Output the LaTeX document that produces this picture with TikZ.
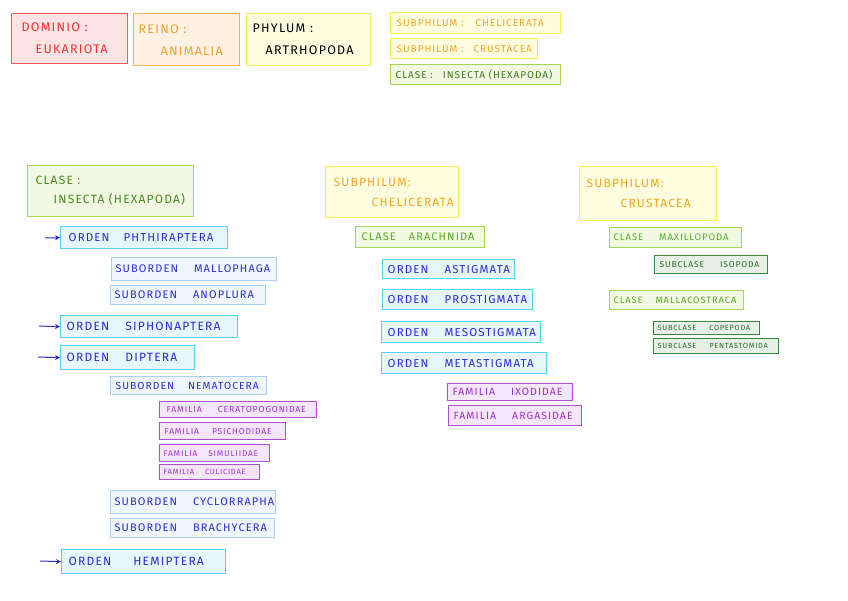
\documentclass[tikz,border=0pt]{standalone}
\usepackage{fontspec}
\setmainfont{Fira Sans}[LetterSpace=10]
\usetikzlibrary{arrows.meta}
\definecolor{redB}{HTML}{F05A5A}\definecolor{redF}{HTML}{FDE4E4}\definecolor{redT}{HTML}{F03535}
\definecolor{orgB}{HTML}{FBB35A}\definecolor{orgF}{HTML}{FFF2E3}\definecolor{orgT}{HTML}{F5A030}
\definecolor{yelB}{HTML}{F5EE50}\definecolor{yelF}{HTML}{FFFDE0}\definecolor{yelT}{HTML}{F5A623}
\definecolor{grnB}{HTML}{A5D65A}\definecolor{grnF}{HTML}{F1F9E3}\definecolor{grnT}{HTML}{5AAB2A}
\definecolor{cyaB}{HTML}{5AD0F0}\definecolor{cyaF}{HTML}{E6F8FD}\definecolor{bluT}{HTML}{2B2BD8}
\definecolor{lbuB}{HTML}{A8D0F5}\definecolor{lbuF}{HTML}{F0F6FD}
\definecolor{purB}{HTML}{B050D0}\definecolor{purF}{HTML}{F6E6FB}\definecolor{purT}{HTML}{A030D0}
\definecolor{dgrB}{HTML}{3A8A3A}\definecolor{dgrF}{HTML}{E6F0E6}\definecolor{dgrT}{HTML}{2A6A2A}
\newcommand{\wg}[1][16]{\hspace{#1pt}}
% \bx{name}{style}{x1}{y1}{x2}{y2}{text}{pad}
\newcommand{\bx}[8]{%
 \pgfmathsetmacro\bxw{#5-#3}\pgfmathsetmacro\bxh{#6-#4}%
 \node[#2, anchor=north west, inner sep=0pt, minimum width=\bxw pt,
   minimum height=\bxh pt] (#1) at (#3,#4) {};
 \node[#2, draw=none, fill=none, anchor=west, inner sep=0pt, align=left]
   (#1-t) at ([xshift=#8pt]#1.west) {#7};}
\begin{document}
\begin{tikzpicture}[x=1pt,y=-1pt,
  redbox/.style={draw=redB, fill=redF, text=redT, line width=1.3pt, font=\fontsize{12.5}{22}\selectfont},
  orgbox/.style={draw=orgB, fill=orgF, text=orgT, line width=1.3pt, font=\fontsize{12.5}{22}\selectfont},
  phybox/.style={draw=yelB, fill=yelF, text=black, line width=1.3pt, font=\fontsize{12.5}{22}\selectfont},
  subbox/.style={draw=yelB, fill=yelF, text=yelT, line width=1.3pt, font=\fontsize{10}{12}\selectfont},
  subbig/.style={draw=yelB, fill=yelF, text=yelT, line width=1.3pt, font=\fontsize{12}{20}\selectfont},
  clabox/.style={draw=grnB, fill=grnF, text=grnT, line width=1.3pt, font=\fontsize{11}{12}\selectfont},
  clabig/.style={draw=grnB, fill=grnF, text=grnT!80!black, line width=1.3pt, font=\fontsize{12}{19}\selectfont},
  ordbox/.style={draw=cyaB, fill=cyaF, text=bluT, line width=1.3pt, font=\fontsize{12}{14}\selectfont},
  sobbox/.style={draw=lbuB, fill=lbuF, text=bluT, line width=1.3pt, font=\fontsize{11}{13}\selectfont},
  fambox/.style={draw=purB, fill=purF, text=purT, line width=1.3pt, font=\fontsize{8.7}{10}\selectfont},
  scbox/.style={draw=dgrB, fill=dgrF, text=dgrT, line width=1.3pt, font=\fontsize{8.5}{9}\selectfont},
  arr/.style={draw=bluT, line width=1pt, -{Stealth[length=5pt,width=5pt]}}]
\useasboundingbox (0,0) rectangle (848,600);
% top legend
\bx{dom}{redbox}{11}{13}{127}{63}{DOMINIO :\\\hspace{14pt}EUKARIOTA}{10}
\bx{rei}{orgbox}{133}{13}{239}{65}{REINO :\\\hspace{22pt}ANIMALIA}{5}
\bx{phy}{phybox}{246}{13}{370}{65}{PHYLUM :\\\hspace{13pt}ARTRHOPODA}{6}
\bx{sch}{subbox}{390}{12}{560}{33}{SUBPHILUM :\wg[12]CHELICERATA}{6}
\bx{scr}{subbox}{390}{38}{537}{58}{SUBPHILUM :\wg[10]CRUSTACEA}{6}
\bx{cin}{clabox, text=grnT!70!black, font=\fontsize{10}{12}\selectfont}{390}{64}{560}{84}{CLASE :\wg[10]INSECTA (HEXAPODA)}{5}
% insecta column
\bx{ins}{clabig}{27}{165}{193}{216}{CLASE :\\\hspace{18pt}INSECTA (HEXAPODA)}{8}
\bx{o1}{ordbox, font=\fontsize{11.5}{14}\selectfont}{60}{226}{227}{248}{ORDEN\wg[14]PHTHIRAPTERA}{8}
\bx{s1}{sobbox}{111}{257}{276}{280}{SUBORDEN\wg MALLOPHAGA}{4}
\bx{s2}{sobbox}{110}{285}{265}{304}{SUBORDEN\wg ANOPLURA}{4}
\bx{o2}{ordbox}{60}{315}{237}{337}{ORDEN\wg SIPHONAPTERA}{6}
\bx{o3}{ordbox}{60}{345}{194}{369}{ORDEN\wg DIPTERA}{6}
\bx{s3}{sobbox, font=\fontsize{10.3}{12}\selectfont}{110}{376}{266}{394}{SUBORDEN\wg[14]NEMATOCERA}{5}
\bx{f1}{fambox}{159}{401}{316}{417}{FAMILIA\wg CERATOPOGONIDAE}{7}
\bx{f2}{fambox, font=\fontsize{8.5}{10}\selectfont}{159}{422}{285}{439}{FAMILIA\wg[13]PSICHODIDAE}{5}
\bx{f3}{fambox, font=\fontsize{8.3}{10}\selectfont}{159}{444}{269}{461}{FAMILIA\wg[11]SIMULIIDAE}{4}
\bx{f4}{fambox, font=\fontsize{7.5}{9}\selectfont}{159}{464}{259}{479}{FAMILIA\wg[11]CULICIDAE}{4}
\bx{s4}{sobbox}{110}{490}{275}{513}{SUBORDEN\wg CYCLORRAPHA}{4}
\bx{s5}{sobbox}{110}{518}{274}{537}{SUBORDEN\wg BRACHYCERA}{4}
\bx{o4}{ordbox}{61}{549}{225}{573}{ORDEN\wg[22]HEMIPTERA}{7}
\coordinate (a1) at (45,238);
\coordinate (a2) at (39,326);
\coordinate (a3) at (38,357);
\coordinate (a4) at (40,561);
\draw[arr] (a1) -- (o1.west);
\draw[arr] (a2) -- (o2.west);
\draw[arr] (a3) -- (o3.west);
\draw[arr] (a4) -- (o4.west);
% chelicerata column
\bx{che}{subbig}{325}{166}{458}{217}{SUBPHILUM:\\\hspace{38pt}CHELICERATA}{8}
\bx{ara}{clabox}{355}{226}{484}{247}{CLASE\wg[13]ARACHNIDA}{6}
\bx{c1}{ordbox, font=\fontsize{11.5}{13}\selectfont}{382}{259}{514}{278}{ORDEN\wg ASTIGMATA}{5}
\bx{c2}{ordbox, font=\fontsize{11.5}{13}\selectfont}{382}{289}{532}{309}{ORDEN\wg PROSTIGMATA}{5}
\bx{c3}{ordbox, font=\fontsize{11.5}{13}\selectfont}{381}{321}{540}{342}{ORDEN\wg MESOSTIGMATA}{6}
\bx{c4}{ordbox, font=\fontsize{11.5}{13}\selectfont}{381}{352}{546}{373}{ORDEN\wg METASTIGMATA}{6}
\bx{c5}{fambox, font=\fontsize{10.5}{12}\selectfont}{447}{383}{572}{400}{FAMILIA\wg IXODIDAE}{5}
\bx{c6}{fambox, font=\fontsize{10.5}{12}\selectfont}{448}{405}{581}{425}{FAMILIA\wg ARGASIDAE}{5}
% crustacea column
\bx{cru}{subbig}{579}{166}{716}{220}{SUBPHILUM:\\\hspace{34pt}CRUSTACEA}{7}
\bx{max}{clabox, font=\fontsize{9.5}{11}\selectfont}{609}{227}{741}{247}{CLASE\wg MAXILLOPODA}{4}
\bx{iso}{scbox}{654}{255}{767}{273}{SUBCLASE\wg ISOPODA}{5}
\bx{mal}{clabox, font=\fontsize{9.3}{11}\selectfont}{609}{290}{743}{309}{CLASE\wg[13]MALLACOSTRACA}{4}
\bx{cop}{scbox, font=\fontsize{7.4}{9}\selectfont}{653}{321}{759}{334}{SUBCLASE\wg[13]COPEPODA}{4}
\bx{pen}{scbox, font=\fontsize{7.4}{9}\selectfont}{653}{338}{778}{353}{SUBCLASE\wg[13]PENTASTOMIDA}{4}
\end{tikzpicture}
\end{document}
